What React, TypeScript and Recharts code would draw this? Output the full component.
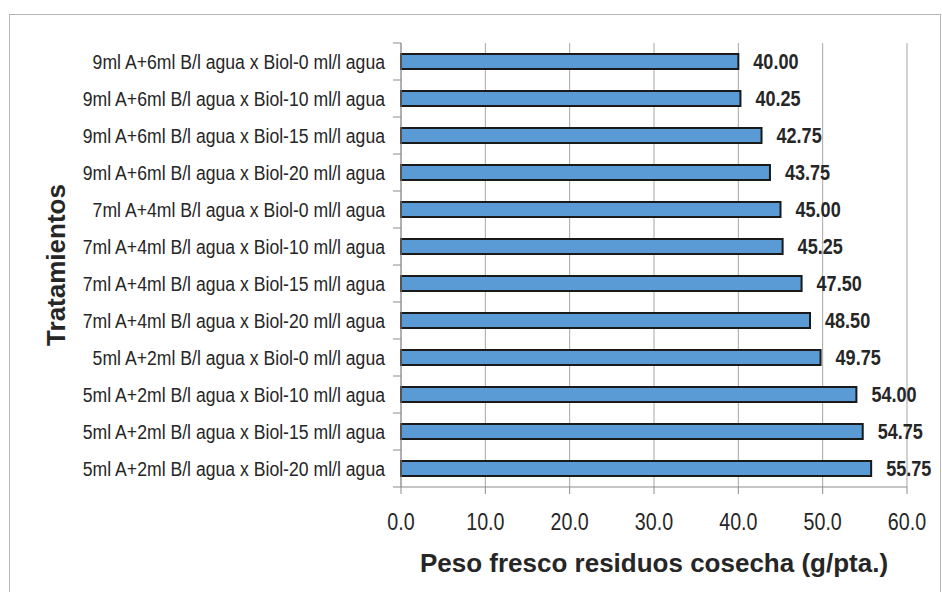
import React from "react";
import { BarChart, Bar, XAxis, YAxis, CartesianGrid, LabelList, Label } from "recharts";

const categories = [
  "9ml A+6ml B/l agua x Biol-0 ml/l agua",
  "9ml A+6ml B/l agua x Biol-10 ml/l agua",
  "9ml A+6ml B/l agua x Biol-15 ml/l agua",
  "9ml A+6ml B/l agua x Biol-20 ml/l agua",
  "7ml A+4ml B/l agua x Biol-0 ml/l agua",
  "7ml A+4ml B/l agua x Biol-10 ml/l agua",
  "7ml A+4ml B/l agua x Biol-15 ml/l agua",
  "7ml A+4ml B/l agua x Biol-20 ml/l agua",
  "5ml A+2ml B/l agua x Biol-0 ml/l agua",
  "5ml A+2ml B/l agua x Biol-10 ml/l agua",
  "5ml A+2ml B/l agua x Biol-15 ml/l agua",
  "5ml A+2ml B/l agua x Biol-20 ml/l agua",
];
const values = [40.0, 40.25, 42.75, 43.75, 45.0, 45.25, 47.5, 48.5, 49.75, 54.0, 54.75, 55.75];
const xTicks = [0, 10, 20, 30, 40, 50, 60];
const xTitle = "Peso fresco residuos cosecha (g/pta.)";
const yTitle = "Tratamientos";

const data = categories.map((c, i) => ({ name: c, value: values[i] }));

const W = 942;
const H = 592;
const M = { top: 43, right: 35, bottom: 0, left: 0 };
const Y_W = 401;
const X_H = 105;
const PLOT_H = H - M.top - M.bottom - X_H;
const BAND = PLOT_H / categories.length;

const FONT = "'Liberation Sans', Arial, sans-serif";
const TXT = "#262626";
const AX = "#8c8c8c";

const YTick = (props: any) => {
  const { x, y, payload, index } = props;
  const axisX = x + 16;
  const last = index === categories.length - 1;
  return (
    <g>
      <line x1={axisX - 8} x2={axisX} y1={y - BAND / 2} y2={y - BAND / 2} stroke={AX} strokeWidth={1} />
      {last && (
        <line x1={axisX - 8} x2={axisX} y1={y + BAND / 2} y2={y + BAND / 2} stroke={AX} strokeWidth={1} />
      )}
      <text
        transform={`translate(${x},${y}) scale(0.84,1)`}
        x={0}
        y={0}
        textAnchor="end"
        dominantBaseline="central"
        fontFamily={FONT}
        fontSize={21}
        fill={TXT}
      >
        {payload.value}
      </text>
    </g>
  );
};

const XTick = (props: any) => {
  const { x, y, payload } = props;
  return (
    <text
      transform={`translate(${x},${y}) scale(0.82,1)`}
      x={0}
      y={0}
      dy="0.71em"
      textAnchor="middle"
      fontFamily={FONT}
      fontSize={24}
      fill={TXT}
    >
      {Number(payload.value).toFixed(1)}
    </text>
  );
};

const ValueLabel = (props: any) => {
  const { x, y, width, height, value } = props;
  const lx = Number(x) + Number(width) + 15;
  const ly = Number(y) + Number(height) / 2;
  return (
    <text
      transform={`translate(${lx},${ly}) scale(0.84,1)`}
      x={0}
      y={0}
      textAnchor="start"
      dominantBaseline="central"
      fontFamily={FONT}
      fontWeight="bold"
      fontSize={21.5}
      fill={TXT}
    >
      {Number(value).toFixed(2)}
    </text>
  );
};

export default function App() {
  return (
    <div style={{ position: "absolute", left: 0, top: 0, width: W, height: H, background: "#fff", overflow: "hidden" }}>
      <div
        style={{
          position: "absolute",
          left: 9,
          top: 14,
          width: 930,
          height: 620,
          border: "1px solid #b5b5b5",
        }}
      />
      <div style={{ position: "absolute", left: 0, top: 0 }}>
        <BarChart width={W} height={H} data={data} layout="vertical" margin={M} barSize={15}>
          <CartesianGrid horizontal={false} vertical={true} stroke="#a6a6a6" strokeWidth={1} />
          <XAxis
            type="number"
            domain={[0, 60]}
            ticks={xTicks}
            height={X_H}
            tickSize={7}
            tickMargin={19}
            stroke={AX}
            tick={<XTick />}
            interval={0}
          >
            <Label
              content={(p: any) => {
                const vb = p.viewBox;
                return (
                  <text x={vb.x + vb.width / 2} y={563} textAnchor="middle" dominantBaseline="central" fontFamily={FONT} fontWeight="bold" fontSize={26} fill={TXT}>
                    {xTitle}
                  </text>
                );
              }}
            />
          </XAxis>
          <YAxis
            type="category"
            dataKey="name"
            width={Y_W}
            tickLine={false}
            tickSize={8}
            tickMargin={8}
            stroke={AX}
            tick={<YTick />}
            interval={0}
          >
            <Label
              content={(p: any) => {
                const vb = p.viewBox;
                const cy = vb.y + vb.height / 2;
                return (
                  <text x={56} y={cy} transform={`rotate(-90, 56, ${cy})`} textAnchor="middle" dominantBaseline="central" fontFamily={FONT} fontWeight="bold" fontSize={26} fill={TXT}>
                    {yTitle}
                  </text>
                );
              }}
            />
          </YAxis>
          <Bar dataKey="value" fill="#5b9bd5" stroke="#1a1a1a" strokeWidth={2} isAnimationActive={false}>
            <LabelList dataKey="value" content={<ValueLabel />} />
          </Bar>
        </BarChart>
      </div>
    </div>
  );
}
